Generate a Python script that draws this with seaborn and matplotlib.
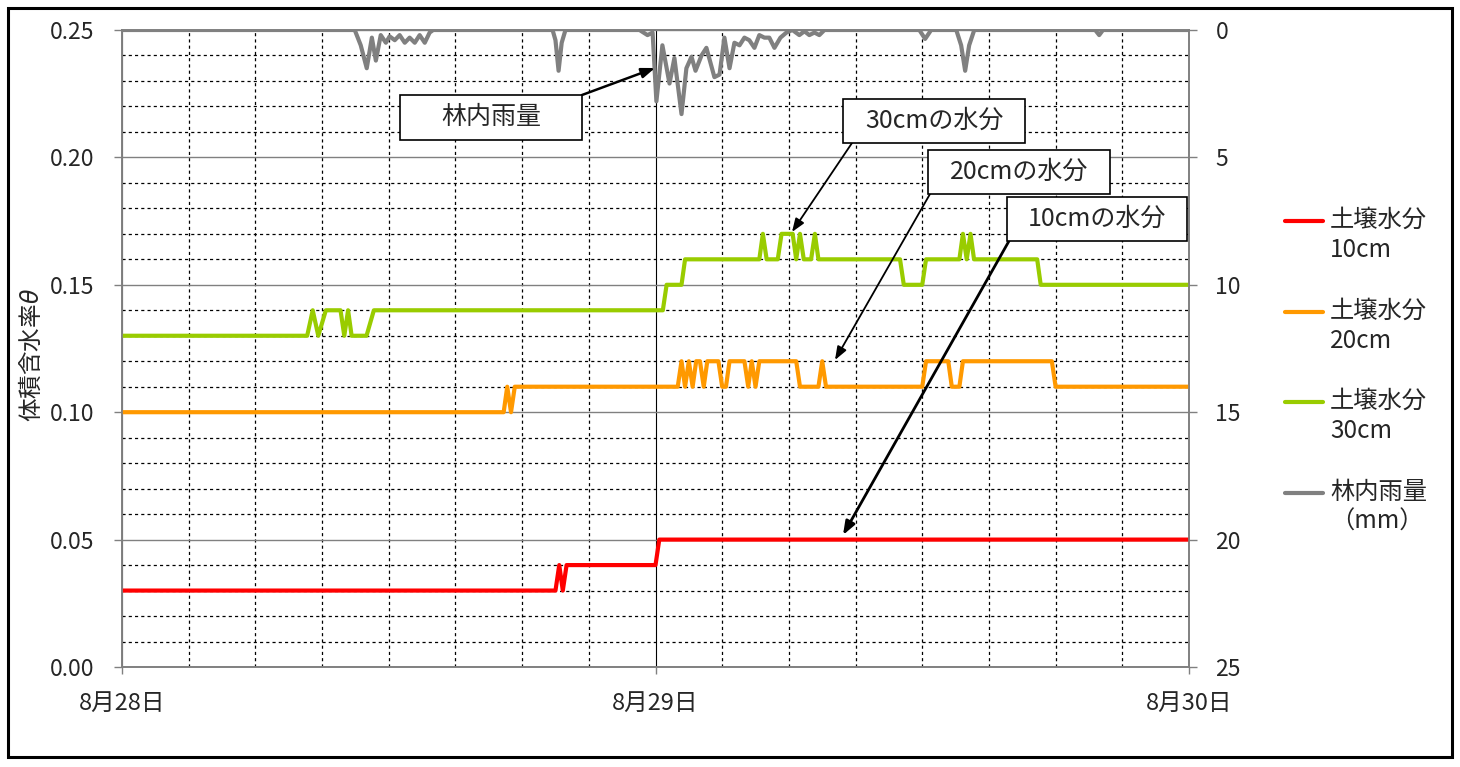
import matplotlib
matplotlib.use("Agg")
import matplotlib.pyplot as plt
import matplotlib.ticker as mticker
from matplotlib.patches import Rectangle
from matplotlib.legend_handler import HandlerLine2D
import seaborn as sns
import pandas as pd

# ---------------- data (hours since 8/28 00:00) ----------------
red_t = [0, 19.5, 19.67, 19.83, 20.0, 24.0, 24.17, 48]
red_v = [0.03, 0.03, 0.04, 0.03, 0.04, 0.04, 0.05, 0.05]

orange_t = [0, 17.17, 17.33, 17.5, 17.67, 25.0, 25.17, 25.33, 25.5, 25.67, 25.83, 26.0,
            26.17, 26.33, 26.83, 27.0, 27.17, 27.33, 28.0, 28.17, 28.33, 28.5, 28.67,
            30.33, 30.5, 31.33, 31.5, 31.67, 36.0, 36.17, 37.17, 37.33, 37.67, 37.83,
            41.83, 42.0, 48]
orange_v = [0.10, 0.10, 0.11, 0.10, 0.11, 0.11, 0.12, 0.11, 0.12, 0.11, 0.12, 0.12,
            0.11, 0.12, 0.12, 0.11, 0.11, 0.12, 0.12, 0.11, 0.12, 0.11, 0.12,
            0.12, 0.11, 0.11, 0.12, 0.11, 0.11, 0.12, 0.12, 0.11, 0.11, 0.12,
            0.12, 0.11, 0.11]

green_t = [0, 8.33, 8.58, 8.83, 9.17, 9.83, 10.0, 10.17, 10.33, 11.0, 11.33, 24.33, 24.5,
           25.17, 25.33, 28.67, 28.83, 29.0, 29.5, 29.67, 30.17, 30.33, 30.5, 30.67, 31.0,
           31.17, 31.33, 35.0, 35.17, 36.0, 36.17, 37.67, 37.83, 38.0, 38.17, 38.33,
           41.17, 41.33, 48]
green_v = [0.13, 0.13, 0.14, 0.13, 0.14, 0.14, 0.13, 0.14, 0.13, 0.13, 0.14, 0.14, 0.15,
           0.15, 0.16, 0.16, 0.17, 0.16, 0.16, 0.17, 0.17, 0.16, 0.17, 0.16, 0.16,
           0.17, 0.16, 0.16, 0.15, 0.15, 0.16, 0.16, 0.17, 0.16, 0.17, 0.16,
           0.16, 0.15, 0.15]

rain_t = [0, 10.47, 10.74, 11.01, 11.24, 11.42, 11.64, 11.87, 12.04, 12.27, 12.49, 12.72,
          12.94, 13.17, 13.39, 13.62, 13.84, 14.0,
          19.37, 19.5, 19.64, 19.78, 19.95,
          23.28, 23.64, 23.87, 24.04, 24.31, 24.63, 24.85, 25.17, 25.39, 25.62, 25.8,
          26.07, 26.29, 26.65, 26.88, 27.1, 27.33, 27.55, 27.78, 28.0, 28.22, 28.45,
          28.67, 28.9, 29.12, 29.35, 29.62, 29.89, 30.16, 30.47, 30.7, 30.92, 31.15,
          31.37, 31.6,
          35.87, 36.13, 36.4, 37.53, 37.75, 37.93, 38.11, 38.34,
          43.78, 43.96, 44.13, 48]
rain_v = [0, 0, 0.6, 1.5, 0.3, 1.2, 0.2, 0.5, 0.25, 0.4, 0.2, 0.5,
          0.3, 0.5, 0.2, 0.5, 0.1, 0,
          0, 0.4, 1.6, 0.5, 0,
          0, 0.2, 0.1, 2.8, 0.6, 2.1, 1.1, 3.3, 1.5, 1.05, 1.6,
          1.0, 0.7, 1.85, 1.75, 0.3, 1.5, 0.5, 0.6, 0.3, 0.4, 0.7,
          0.2, 0.3, 0.3, 0.7, 0.3, 0.1, 0.0, 0.2, 0.05, 0.2, 0.1,
          0.2, 0,
          0, 0.35, 0, 0, 0.6, 1.6, 0.6, 0,
          0, 0.2, 0, 0]

day_ticks = [0, 24, 48]
day_labels = ["8月28日", "8月29日", "8月30日"]
left_ticks = [0.00, 0.05, 0.10, 0.15, 0.20, 0.25]
right_ticks = [0, 5, 10, 15, 20, 25]

series_labels = ["土壌水分\n10cm", "土壌水分\n20cm", "土壌水分\n30cm", "林内雨量\n（mm）"]
colors = ["#FF0000", "#FF9900", "#99CC00", "#808080"]

# ---------------- style ----------------
sns.set_style("white")
plt.rcParams["font.family"] = ["Noto Sans CJK JP", "DejaVu Sans"]

W, H = 1460, 767
fig = plt.figure(figsize=(W / 100, H / 100), dpi=100)
L, R, T, B = 122, 1189, 30, 667
ax = fig.add_axes([L / W, 1 - B / H, (R - L) / W, (B - T) / H])

soil = pd.concat([
    pd.DataFrame({"t": red_t, "v": red_v, "s": series_labels[0]}),
    pd.DataFrame({"t": orange_t, "v": orange_v, "s": series_labels[1]}),
    pd.DataFrame({"t": green_t, "v": green_v, "s": series_labels[2]}),
])
sns.lineplot(data=soil, x="t", y="v", hue="s", palette=colors[:3], estimator=None,
             sort=False, linewidth=3, ax=ax, legend=False, zorder=3)

ax.set_xlim(0, 48)
ax.set_ylim(0, 0.25)
ax.set_xticks(day_ticks)
ax.set_xticklabels(day_labels)
ax.set_yticks(left_ticks)
ax.yaxis.set_major_formatter(mticker.FormatStrFormatter("%.2f"))
ax.xaxis.set_minor_locator(mticker.MultipleLocator(3))
ax.yaxis.set_minor_locator(mticker.MultipleLocator(0.01))
ax.set_xlabel("")
ax.set_ylabel("体積含水率$\\theta$", fontsize=17, va="center")
ax.yaxis.set_label_coords(-0.086, 0.49)

ax.grid(which="major", axis="y", color="#808080", lw=1.0, ls="-")
ax.grid(which="minor", axis="y", color="black", lw=0.9, ls=(0, (2.5, 2.5)))
ax.grid(which="major", axis="x", color="black", lw=0.8, ls="-")
ax.grid(which="minor", axis="x", color="black", lw=0.9, ls=(0, (2.5, 2.5)))
ax.tick_params(axis="y", which="major", direction="out", length=6, width=1,
               color="#808080", pad=14, labelsize=16.5, left=True)
ax.tick_params(axis="x", which="major", direction="out", length=5, width=1,
               color="#808080", pad=13, labelsize=17, bottom=True)
ax.tick_params(which="minor", length=0)
for s in ax.spines.values():
    s.set_color("#808080")
    s.set_linewidth(1.2)

# rain on the secondary axis (inverted)
ax2 = ax.twinx()
ax2.patch.set_visible(False)
rain = pd.DataFrame({"t": rain_t, "v": rain_v})
sns.lineplot(data=rain, x="t", y="v", color=colors[3], estimator=None, sort=False,
             linewidth=3, ax=ax2, legend=False)
ax2.set_ylim(25, 0)
ax2.set_xlim(0, 48)
ax2.set_yticks(right_ticks)
ax2.set_ylabel("")
ax2.tick_params(axis="y", direction="out", length=6, width=1, color="#808080",
                pad=13, labelsize=16.5, right=True)
for s in ax2.spines.values():
    s.set_color("#808080")
    s.set_linewidth(1.2)


def px_to_axes(px, py):
    return ((px - L) / (R - L), (B - py) / (B - T))


# annotations: (text, box x0, y0, x1, y1, arrow start px, arrow end px, lw)
notes = [
    ("林内雨量", 400, 95, 582, 140, (582, 95), (655, 68), 1.8),
    ("30cmの水分", 843, 99, 1025, 143, (852, 143), (792, 232), 1.3),
    ("20cmの水分", 928, 150, 1110, 194, (930, 194), (835, 360), 1.3),
    ("10cmの水分", 1007, 197, 1187, 241, (1009, 241), (843, 535), 2.0),
]
for txt, x0, y0, x1, y1, a0, a1, lw in notes:
    ax2.annotate("", xy=px_to_axes(*a1), xytext=px_to_axes(*a0),
                 xycoords="axes fraction", textcoords="axes fraction",
                 arrowprops=dict(arrowstyle="-|>,head_length=0.8,head_width=0.3",
                                 color="black", lw=lw, shrinkA=0, shrinkB=0),
                 zorder=5)
    bx, by = px_to_axes(x0, y1)
    bw = (x1 - x0) / (R - L)
    bh = (y1 - y0) / (B - T)
    ax2.add_patch(Rectangle((bx, by), bw, bh, transform=ax2.transAxes,
                            facecolor="white", edgecolor="black", lw=1.2,
                            zorder=6, clip_on=False))
    cx, cy = px_to_axes((x0 + x1) / 2, (y0 + y1) / 2)
    ax2.text(cx, cy, txt, transform=ax2.transAxes, ha="center", va="center",
             fontsize=18, zorder=7)


class TopLineHandler(HandlerLine2D):
    """Place the legend line level with the first row of a two-line label."""

    def create_artists(self, legend, orig_handle, xdescent, ydescent, width,
                       height, fontsize, trans):
        arts = super().create_artists(legend, orig_handle, xdescent, ydescent,
                                      width, height, fontsize, trans)
        for a in arts:
            a.set_ydata([y + 0.62 * fontsize for y in a.get_ydata()])
        return arts


# legend
handles = ax.get_lines()[:3] + ax2.get_lines()[:1]
fig.legend(handles, series_labels, loc="upper left",
           bbox_to_anchor=(1285 / W, 1 - 207 / H), frameon=False, fontsize=17.5,
           handlelength=1.55, handletextpad=0.3, labelspacing=1.42,
           borderpad=0, borderaxespad=0,
           handler_map={h: TopLineHandler() for h in handles})

# outer frame
fig.add_artist(Rectangle((8 / W, 1 - 757 / H), 1444 / W, 749 / H,
                         transform=fig.transFigure, fill=False,
                         edgecolor="black", lw=2.2))

fig.savefig("out.png", dpi=100)
